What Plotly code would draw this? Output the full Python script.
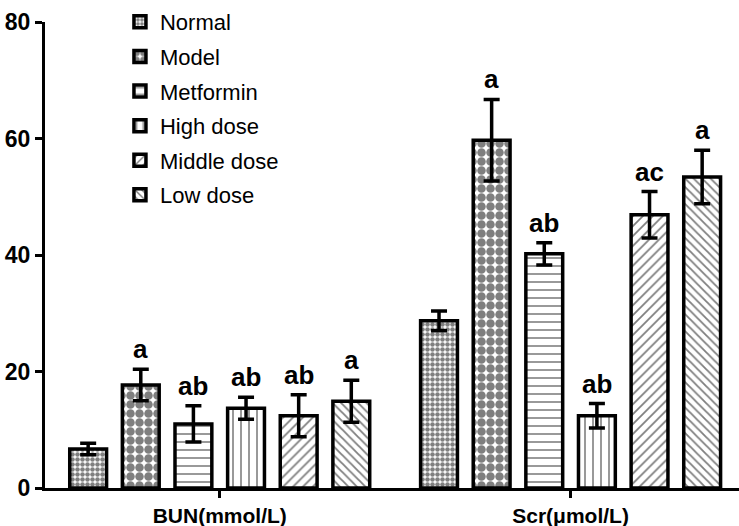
import plotly.graph_objects as go

# Indicator groups on the x axis
categories = ["BUN(mmol/L)", "Scr(μmol/L)"]

# Treatment groups
groups = ["Normal", "Model", "Metformin", "High dose", "Middle dose", "Low dose"]

# Mean values per group: [BUN, Scr]
means = {
    "Normal":      [6.7, 28.7],
    "Model":       [17.7, 59.7],
    "Metformin":   [11.0, 40.2],
    "High dose":   [13.7, 12.4],
    "Middle dose": [12.4, 46.9],
    "Low dose":    [14.9, 53.4],
}

# Error (SD) per group: [BUN, Scr]
errors = {
    "Normal":      [1.0, 1.7],
    "Model":       [2.7, 7.0],
    "Metformin":   [3.1, 1.9],
    "High dose":   [1.9, 2.1],
    "Middle dose": [3.6, 4.0],
    "Low dose":    [3.6, 4.6],
}

# Significance letters per group: [BUN, Scr]
letters = {
    "Normal":      ["", ""],
    "Model":       ["a", "a"],
    "Metformin":   ["ab", "ab"],
    "High dose":   ["ab", "ab"],
    "Middle dose": ["ab", "ac"],
    "Low dose":    ["a", "a"],
}

# Fill pattern per group
patterns = {
    "Normal":      dict(shape=".", size=5, solidity=0.65),
    "Model":       dict(shape=".", size=9, solidity=0.7),
    "Metformin":   dict(shape="-", size=8, solidity=0.2),
    "High dose":   dict(shape="|", size=8, solidity=0.2),
    "Middle dose": dict(shape="/", size=7, solidity=0.25),
    "Low dose":    dict(shape="\\", size=6, solidity=0.3),
}

FONT = "Liberation Sans, Arial"

fig = go.Figure()

for i, g in enumerate(groups):
    p = patterns[g]
    fig.add_trace(go.Bar(
        name=g,
        x=[0, 1],
        y=means[g],
        legendgroup=g,
        marker=dict(
            color="white",
            line=dict(color="black", width=3.5),
            pattern=dict(shape=p["shape"], size=p["size"], solidity=p["solidity"],
                         fgcolor="black", bgcolor="white", fillmode="overlay"),
        ),
        error_y=dict(type="data", array=errors[g], visible=True,
                     color="black", thickness=3.5, width=8),
        offsetgroup=str(i),
    ))

# Letters above the error bars
bar_step = 0.9 / len(groups)
for i, g in enumerate(groups):
    for j in range(len(categories)):
        txt = letters[g][j]
        if not txt:
            continue
        xpos = j - 0.45 + bar_step * (i + 0.5)
        fig.add_annotation(
            x=xpos, y=means[g][j] + errors[g][j],
            text=f"<b>{txt}</b>", showarrow=False,
            yanchor="bottom", yshift=3,
            font=dict(family=FONT, size=26, color="black"),
        )

fig.update_layout(
    width=739, height=526,
    margin=dict(l=45, r=0, t=22, b=38),
    paper_bgcolor="white", plot_bgcolor="white",
    barmode="group", bargap=0.1, bargroupgap=0.3,
    font=dict(family=FONT, color="black"),
    showlegend=True,
    legend=dict(
        x=0.108, y=1.045, xanchor="left", yanchor="top",
        bgcolor="rgba(0,0,0,0)",
        font=dict(size=22, family=FONT, color="black"),
        tracegroupgap=3,
    ),
)

fig.update_xaxes(
    range=[-0.498, 1.48],
    tickmode="array", tickvals=[0, 1],
    ticktext=[f"<b>{c}</b>" for c in categories],
    tickfont=dict(size=21, family=FONT, color="black"),
    ticks="outside", ticklen=7, tickwidth=3, tickcolor="black",
    showline=True, linecolor="black", linewidth=3,
    showgrid=False, zeroline=False,
)

fig.update_yaxes(
    range=[0, 80], tickvals=[0, 20, 40, 60, 80],
    ticktext=[f"<b>{v}</b>" for v in [0, 20, 40, 60, 80]],
    tickfont=dict(size=23, family=FONT, color="black"),
    ticks="outside", ticklen=7, tickwidth=3, tickcolor="black",
    showline=True, linecolor="black", linewidth=3,
    showgrid=False, zeroline=False,
)

fig.write_html("out.html")
